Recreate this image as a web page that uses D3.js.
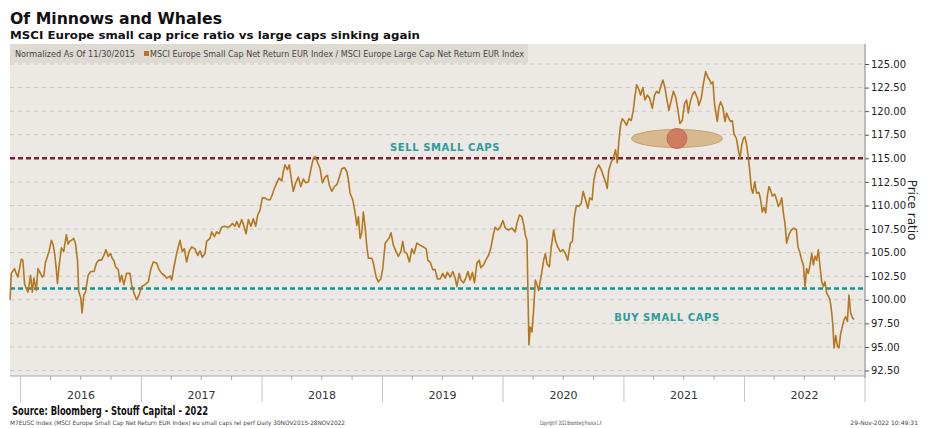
<!DOCTYPE html>
<html><head><meta charset="utf-8">
<script src="https://cdn.jsdelivr.net/npm/d3@7"></script>
<style>
html,body{margin:0;padding:0;background:#fff;}
svg{display:block;}
text{font-family:"DejaVu Sans",Verdana,sans-serif;}
</style></head>
<body>
<svg id="chart" width="939" height="428"></svg>
<script>
// ---- data (decimal-year dates, ratio values) ----
const dates = [
2015.913,2015.923,2015.950,2015.964,2015.978,2016.006,2016.019,2016.033,2016.047,2016.061,2016.083,2016.097,2016.110,2016.130,2016.144,2016.164,2016.180,2016.193,2016.205,2016.222,2016.235,2016.255,2016.268,2016.282,2016.296,2016.305,2016.318,2016.338,2016.357,2016.379,2016.393,2016.407,2016.421,2016.440,2016.454,2016.471,2016.481,2016.498,2016.509,2016.523,2016.537,2016.559,2016.581,2016.608,2016.628,2016.647,2016.670,2016.689,2016.706,2016.725,2016.745,2016.758,2016.774,2016.786,2016.808,2016.822,2016.836,2016.855,2016.877,2016.905,2016.919,2016.938,2016.960,2016.980,
2017.002,2017.029,2017.057,2017.077,2017.098,2017.126,2017.146,2017.168,2017.190,2017.209,2017.237,2017.251,2017.270,2017.292,2017.312,2017.320,2017.339,2017.356,2017.375,2017.395,2017.417,2017.444,2017.467,2017.486,2017.505,2017.527,2017.541,2017.569,2017.583,2017.605,2017.624,2017.644,2017.666,2017.688,2017.716,2017.735,2017.754,2017.776,2017.791,2017.810,2017.832,2017.851,2017.868,2017.887,2017.909,2017.928,2017.948,2017.965,2017.984,
2018.003,2018.025,2018.048,2018.067,2018.081,2018.103,2018.123,2018.142,2018.164,2018.177,2018.191,2018.211,2018.227,2018.247,2018.260,2018.280,2018.302,2018.322,2018.343,2018.363,2018.385,2018.407,2018.426,2018.440,2018.463,2018.482,2018.501,2018.523,2018.543,2018.557,2018.579,2018.601,2018.621,2018.640,2018.662,2018.684,2018.704,2018.717,2018.731,2018.753,2018.773,2018.787,2018.800,2018.814,2018.828,2018.841,2018.856,2018.870,2018.883,2018.911,2018.924,2018.947,2018.966,2018.986,
2019.002,2019.022,2019.041,2019.057,2019.071,2019.090,2019.113,2019.132,2019.152,2019.168,2019.182,2019.202,2019.223,2019.243,2019.262,2019.285,2019.312,2019.339,2019.362,2019.376,2019.395,2019.417,2019.437,2019.456,2019.478,2019.500,2019.520,2019.539,2019.561,2019.583,2019.603,2019.617,2019.636,2019.650,2019.672,2019.691,2019.708,2019.727,2019.746,2019.763,2019.783,2019.802,2019.816,2019.838,2019.857,2019.879,2019.899,2019.921,2019.935,2019.954,2019.976,2019.999,
2020.018,2020.045,2020.073,2020.101,2020.115,2020.136,2020.156,2020.170,2020.184,2020.198,2020.206,2020.214,2020.225,2020.239,2020.253,2020.267,2020.281,2020.294,2020.314,2020.336,2020.350,2020.364,2020.383,2020.399,2020.419,2020.433,2020.452,2020.474,2020.497,2020.516,2020.535,2020.557,2020.574,2020.590,2020.607,2020.626,2020.646,2020.663,2020.682,2020.701,2020.717,2020.737,2020.751,2020.771,2020.792,2020.812,2020.834,2020.848,2020.862,2020.875,2020.895,2020.912,2020.931,2020.945,2020.958,2020.972,2020.986,
2021.005,2021.022,2021.041,2021.061,2021.078,2021.091,2021.105,2021.124,2021.138,2021.157,2021.174,2021.194,2021.213,2021.235,2021.254,2021.271,2021.290,2021.310,2021.323,2021.340,2021.354,2021.373,2021.390,2021.410,2021.429,2021.448,2021.464,2021.484,2021.503,2021.520,2021.534,2021.547,2021.567,2021.586,2021.609,2021.622,2021.642,2021.659,2021.678,2021.692,2021.711,2021.725,2021.738,2021.753,2021.775,2021.788,2021.802,2021.821,2021.838,2021.852,2021.871,2021.885,2021.899,2021.913,2021.933,2021.949,2021.963,2021.977,2021.991,
2022.002,2022.016,2022.029,2022.043,2022.057,2022.070,2022.085,2022.101,2022.120,2022.134,2022.148,2022.162,2022.176,2022.190,2022.203,2022.217,2022.231,2022.251,2022.267,2022.281,2022.295,2022.309,2022.323,2022.336,2022.350,2022.369,2022.389,2022.411,2022.431,2022.444,2022.458,2022.475,2022.489,2022.502,2022.516,2022.530,2022.544,2022.558,2022.572,2022.585,2022.599,2022.613,2022.627,2022.641,2022.655,2022.668,2022.682,2022.696,2022.710,2022.724,2022.734,2022.743,2022.757,2022.771,2022.784,2022.798,2022.813,2022.826,2022.840,2022.854,2022.867,2022.881,2022.896,2022.909
];
const values = [
100.0,102.8,103.3,102.8,102.4,104.3,104.2,101.7,101.2,100.8,102.6,100.8,102.3,101.0,103.3,102.8,102.4,102.6,103.9,104.6,105.1,106.3,105.9,104.9,103.2,101.7,103.5,105.5,105.1,106.9,105.9,106.2,106.3,106.5,106.0,104.2,100.9,100.2,98.6,100.5,100.8,102.6,103.0,103.0,103.9,104.2,104.2,104.7,105.3,104.6,104.9,104.4,104.1,103.5,103.2,101.9,102.6,101.6,102.8,102.8,101.6,100.7,100.0,100.5,
101.4,101.6,101.9,103.2,104.0,103.9,103.2,102.8,102.6,102.3,102.5,102.1,103.5,104.9,105.9,106.3,105.1,105.4,104.0,105.1,105.6,105.4,104.7,105.2,104.5,104.9,106.2,106.5,107.2,106.7,107.2,107.0,107.7,107.8,107.7,107.8,108.1,107.8,108.3,107.7,108.5,107.8,107.0,108.5,107.8,108.6,107.8,109.0,109.5,
110.8,110.8,110.6,110.6,111.0,111.8,112.4,112.9,112.6,113.6,114.3,113.8,114.3,112.5,111.5,112.4,113.0,112.0,112.8,112.4,112.5,113.9,115.0,115.2,114.5,113.9,112.4,113.0,113.2,112.2,111.5,112.0,112.2,112.9,113.9,114.0,113.6,112.7,111.3,110.6,109.2,107.9,108.8,106.5,107.1,109.3,107.7,105.6,104.4,104.4,103.9,102.4,101.9,102.2,
103.3,106.0,106.3,106.6,107.1,105.8,105.1,104.6,105.1,106.2,105.1,104.9,104.0,105.4,104.9,106.0,105.8,105.6,105.4,104.2,104.0,103.2,103.2,102.2,102.2,102.8,102.3,102.9,102.4,103.0,102.3,101.4,102.8,102.1,101.8,102.3,103.0,102.1,102.9,101.8,103.9,104.2,103.4,103.7,104.2,104.7,105.5,107.0,107.7,107.4,107.7,108.4,
107.6,107.4,107.6,107.2,108.1,109.0,108.8,108.0,106.9,106.3,100.7,95.2,97.1,96.6,98.9,102.1,101.6,101.0,102.4,104.2,104.9,103.8,103.5,105.6,107.4,106.3,105.6,105.1,105.3,104.9,104.2,106.0,106.2,108.8,110.0,109.9,110.2,111.5,110.6,109.7,110.8,110.6,112.7,113.8,114.3,113.8,113.0,112.5,111.8,113.8,114.6,115.0,115.9,114.5,116.8,118.5,119.2,
118.9,118.5,119.2,119.0,120.1,121.5,122.8,122.3,121.7,122.5,121.2,121.7,121.4,120.3,121.7,122.1,121.9,122.8,123.3,122.5,121.4,120.1,121.0,122.1,121.5,120.1,118.7,119.0,120.8,121.2,119.8,120.8,121.7,122.1,121.4,120.6,121.4,122.9,124.2,123.7,123.3,122.9,123.1,120.6,118.9,120.4,121.0,120.4,118.9,119.8,119.2,118.9,119.0,117.6,117.1,115.9,115.0,116.4,117.1,
117.3,116.6,115.4,113.8,111.8,111.3,112.5,111.3,111.4,110.6,109.3,109.8,109.2,111.0,112.0,111.6,111.0,111.2,110.6,109.9,110.2,110.8,109.2,108.1,106.0,106.9,107.4,107.6,107.4,105.6,105.1,104.2,103.7,101.4,103.3,102.8,103.7,104.9,103.7,104.6,104.2,105.3,103.5,101.9,101.4,101.9,100.7,100.4,100.0,98.6,97.2,94.9,96.2,95.1,94.9,96.4,97.2,97.9,98.2,97.7,100.5,98.6,98.1,97.9
];
const yTicks = [92.5,95,97.5,100,102.5,105,107.5,110,112.5,115,117.5,120,122.5,125];
const yearLabels = ["2016","2017","2018","2019","2020","2021","2022"];
const sellLevel = 115.0;
const buyLevel = 101.2;
const highlight = {date: 2021.44, value: 117.1};

// ---- helpers ----
function fromYear(t){const y=Math.floor(t);const s=Date.UTC(y,0,1),e=Date.UTC(y+1,0,1);return new Date(s+(t-y)*(e-s));}
const series = dates.map((d,i)=>({date:fromYear(d), value:values[i]}));

const svg = d3.select("#chart");
const L=10, R=865, T=44, B=376;
const x = d3.scaleUtc().domain([new Date(Date.UTC(2015,10,30)), new Date(Date.UTC(2023,0,1))]).range([L,R]);
const y = d3.scaleLinear().domain([92.5,125]).range([370.5,64]);

// Titles
svg.append("text").attr("x",10).attr("y",24).attr("font-size",16.5).attr("font-weight","bold").attr("fill","#111")
  .attr("textLength",212).attr("lengthAdjust","spacingAndGlyphs").text("Of Minnows and Whales");
svg.append("text").attr("x",10).attr("y",38.5).attr("font-size",11).attr("font-weight","bold").attr("fill","#111")
  .attr("textLength",410).attr("lengthAdjust","spacingAndGlyphs").text("MSCI Europe small cap price ratio vs large caps sinking again");

// Plot background
svg.append("rect").attr("x",L).attr("y",T).attr("width",R-L).attr("height",B-T).attr("fill","#ece9e4");
// legend band
svg.append("rect").attr("x",L).attr("y",T).attr("width",518).attr("height",19).attr("fill","#dedad2");
svg.append("text").attr("x",15).attr("y",56.5).attr("font-size",8.5).attr("fill","#444")
  .attr("textLength",120).attr("lengthAdjust","spacingAndGlyphs").text("Normalized As Of 11/30/2015");
svg.append("rect").attr("x",144).attr("y",51).attr("width",5).attr("height",5).attr("fill","#b5771e");
svg.append("text").attr("x",150).attr("y",56.5).attr("font-size",8.5).attr("fill","#444")
  .attr("textLength",374).attr("lengthAdjust","spacingAndGlyphs")
  .text("MSCI Europe Small Cap Net Return EUR Index / MSCI Europe Large Cap Net Return EUR Index");

// grid
svg.append("g").selectAll("line").data(yTicks).join("line")
  .attr("x1",L).attr("x2",R).attr("y1",d=>y(d)).attr("y2",d=>y(d))
  .attr("stroke","#c9c6c0").attr("stroke-width",1).attr("stroke-dasharray","4,4");

// reference lines
svg.append("line").attr("x1",L).attr("x2",R).attr("y1",y(sellLevel)).attr("y2",y(sellLevel))
  .attr("stroke","#7b1d2c").attr("stroke-width",2.5).attr("stroke-dasharray","5,3");
svg.append("line").attr("x1",L).attr("x2",R).attr("y1",y(buyLevel)).attr("y2",y(buyLevel))
  .attr("stroke","#17948f").attr("stroke-width",2.5).attr("stroke-dasharray","5,3");

// annotation texts
svg.append("text").attr("x",445).attr("y",151).attr("text-anchor","middle").attr("font-size",10).attr("font-weight","bold")
  .attr("fill","#2a9d9c").attr("letter-spacing",0.6).text("SELL SMALL CAPS");
svg.append("text").attr("x",667).attr("y",321).attr("text-anchor","middle").attr("font-size",10).attr("font-weight","bold")
  .attr("fill","#2a9d9c").attr("letter-spacing",0.6).text("BUY SMALL CAPS");

// highlight ellipse + dot
const hx = x(fromYear(highlight.date)), hy = y(highlight.value);
svg.append("ellipse").attr("cx",hx).attr("cy",hy).attr("rx",45.5).attr("ry",9)
  .attr("fill","#d7b486").attr("fill-opacity",0.9).attr("stroke","#c99f68").attr("stroke-width",1);
svg.append("circle").attr("cx",hx).attr("cy",hy).attr("r",10)
  .attr("fill","#cf7b5f").attr("stroke","#c4684f").attr("stroke-width",1);

// series line
svg.append("path").datum(series)
  .attr("d",d3.line().x(d=>x(d.date)).y(d=>y(d.value)))
  .attr("fill","none").attr("stroke","#b5771e").attr("stroke-width",1.6).attr("stroke-linejoin","round");

// x axis
svg.append("line").attr("x1",L).attr("x2",R).attr("y1",B).attr("y2",B).attr("stroke","#a8a8a8").attr("stroke-width",1.2);
const quarters = d3.utcMonth.every(3).range(x.domain()[0], x.domain()[1]).filter(d=>d.getUTCMonth()!==0);
svg.append("g").selectAll("line").data(quarters).join("line")
  .attr("x1",d=>x(d)).attr("x2",d=>x(d)).attr("y1",B).attr("y2",B+4).attr("stroke","#aaa");
const years = d3.utcYear.range(new Date(Date.UTC(2016,0,1)), new Date(Date.UTC(2023,0,2)));
svg.append("g").selectAll("line").data(years).join("line")
  .attr("x1",d=>x(d)).attr("x2",d=>x(d)).attr("y1",B).attr("y2",402).attr("stroke","#c4c4c4").attr("stroke-width",1);
svg.append("g").selectAll("text").data(yearLabels).join("text")
  .attr("x",d=>x(new Date(Date.UTC(+d,6,2)))).attr("y",399).attr("text-anchor","middle")
  .attr("font-size",11).attr("fill","#333").text(d=>d);

// right y axis
svg.append("line").attr("x1",R).attr("x2",R).attr("y1",T).attr("y2",B+2).attr("stroke","#a8a8a8").attr("stroke-width",1.5);
const yAxis = svg.append("g").attr("transform",`translate(${R},0)`)
  .call(d3.axisRight(y).tickValues(yTicks).tickFormat(d3.format(".2f")).tickSize(4).tickPadding(2));
yAxis.select(".domain").remove();
yAxis.selectAll(".tick line").attr("stroke","#555");
yAxis.selectAll(".tick text").attr("font-size",10).attr("fill","#222").attr("font-family","DejaVu Sans, sans-serif");
svg.append("text").attr("transform","translate(908,210) rotate(90)").attr("text-anchor","middle")
  .attr("font-size",12).attr("fill","#222").text("Price ratio");

// footer
svg.append("text").attr("x",12).attr("y",415).attr("font-size",12.5).attr("font-weight","bold").attr("fill","#111")
  .attr("textLength",196).attr("lengthAdjust","spacingAndGlyphs").text("Source: Bloomberg - Stouff Capital - 2022");
svg.append("text").attr("x",10).attr("y",425).attr("font-size",6).attr("fill","#444")
  .attr("textLength",335).attr("lengthAdjust","spacingAndGlyphs")
  .text("M7EUSC Index (MSCI Europe Small Cap Net Return EUR Index) eu small caps rel perf  Daily 30NOV2015-28NOV2022");
svg.append("text").attr("x",540).attr("y",425).attr("font-size",6).attr("fill","#444")
  .attr("textLength",62).attr("lengthAdjust","spacingAndGlyphs").text("Copyright© 2022 Bloomberg Finance L.P.");
svg.append("text").attr("x",918).attr("y",425).attr("text-anchor","end").attr("font-size",6).attr("fill","#444")
  .text("29-Nov-2022 10:49:31");
</script>
</body></html>
